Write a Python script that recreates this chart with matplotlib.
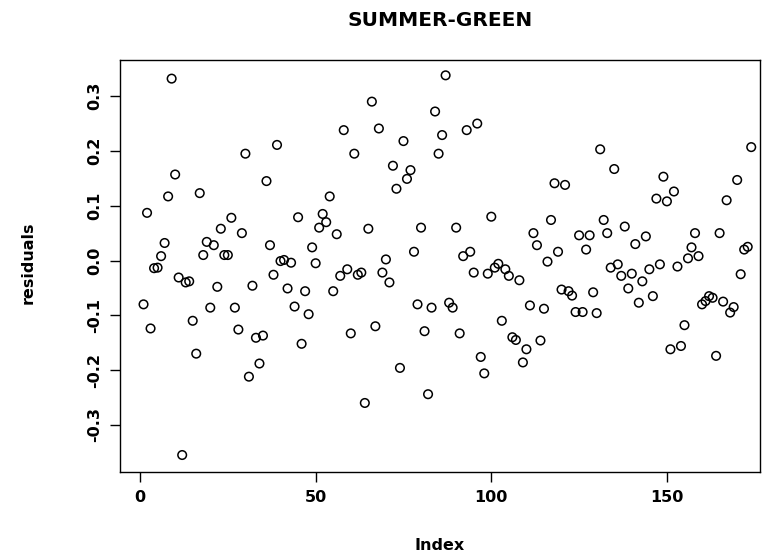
import matplotlib
matplotlib.use("Agg")
import matplotlib.pyplot as plt
import numpy as np

title = "SUMMER-GREEN"
xlabel = "Index"
ylabel = "residuals"
xticks = [0, 50, 100, 150]
yticks = [-0.3, -0.2, -0.1, 0.0, 0.1, 0.2, 0.3]

residuals = [
    -0.080, 0.087, -0.124, -0.014, -0.013, 0.008, 0.032, 0.117, 0.332, 0.157,
    -0.031, -0.355, -0.040, -0.038, -0.110, -0.170, 0.123, 0.010, 0.034, -0.086,
    0.028, -0.048, 0.058, 0.010, 0.010, 0.078, -0.086, -0.126, 0.050, 0.195,
    -0.212, -0.046, -0.141, -0.188, -0.137, 0.145, 0.028, -0.026, 0.211, -0.001,
    0.001, -0.051, -0.004, -0.084, 0.079, -0.152, -0.056, -0.098, 0.024, -0.005,
    0.060, 0.085, 0.070, 0.117, -0.056, 0.048, -0.028, 0.238, -0.016, -0.133,
    0.195, -0.026, -0.022, -0.260, 0.058, 0.290, -0.120, 0.241, -0.022, 0.002,
    -0.040, 0.173, 0.131, -0.196, 0.218, 0.149, 0.165, 0.016, -0.080, 0.060,
    -0.129, -0.244, -0.086, 0.272, 0.195, 0.229, 0.338, -0.077, -0.086, 0.060,
    -0.133, 0.008, 0.238, 0.016, -0.022, 0.250, -0.176, -0.206, -0.024, 0.080,
    -0.013, -0.006, -0.110, -0.016, -0.028, -0.140, -0.145, -0.036, -0.186, -0.162,
    -0.082, 0.050, 0.028, -0.146, -0.088, -0.002, 0.074, 0.141, 0.016, -0.053,
    0.138, -0.056, -0.064, -0.094, 0.046, -0.094, 0.020, 0.046, -0.058, -0.096,
    0.203, 0.074, 0.050, -0.013, 0.167, -0.007, -0.028, 0.062, -0.051, -0.024,
    0.030, -0.077, -0.038, 0.044, -0.016, -0.065, 0.113, -0.007, 0.153, 0.108,
    -0.162, 0.126, -0.011, -0.156, -0.118, 0.004, 0.024, 0.050, 0.008, -0.080,
    -0.074, -0.065, -0.068, -0.174, 0.050, -0.075, 0.110, -0.095, -0.085, 0.147,
    -0.025, 0.020, 0.025, 0.207,
]

index = np.arange(1, len(residuals) + 1)

W, H = 768, 560
fig = plt.figure(figsize=(W / 100, H / 100), dpi=100)
ax = fig.add_axes([120 / W, 1 - 472 / H, (760 - 120) / W, (472 - 60) / H])

ax.scatter(index, residuals, s=38, facecolors="none", edgecolors="black", linewidths=1.1)

ax.set_xlim(-5.7, 176.5)
ax.set_ylim(-0.386, 0.366)
ax.set_xticks(xticks)
ax.set_yticks(yticks)
ax.set_xticklabels([str(t) for t in xticks], fontsize=11.5, fontweight="bold")
ax.set_yticklabels([f"{t:.1f}" for t in yticks], fontsize=11.5, fontweight="bold",
                   rotation=90, va="center")
ax.tick_params(direction="out", length=7, width=1, pad=6)
for s in ax.spines.values():
    s.set_linewidth(1.0)

fig.text(440 / W, 1 - 20 / H, title, ha="center", va="center", fontsize=14.5, fontweight="bold")
fig.text(440 / W, 1 - 546 / H, xlabel, ha="center", va="center", fontsize=11.5, fontweight="bold")
fig.text(28 / W, 1 - 263 / H, ylabel, ha="center", va="center", fontsize=11.5, fontweight="bold",
         rotation=90)

fig.savefig("out.png", dpi=100)
